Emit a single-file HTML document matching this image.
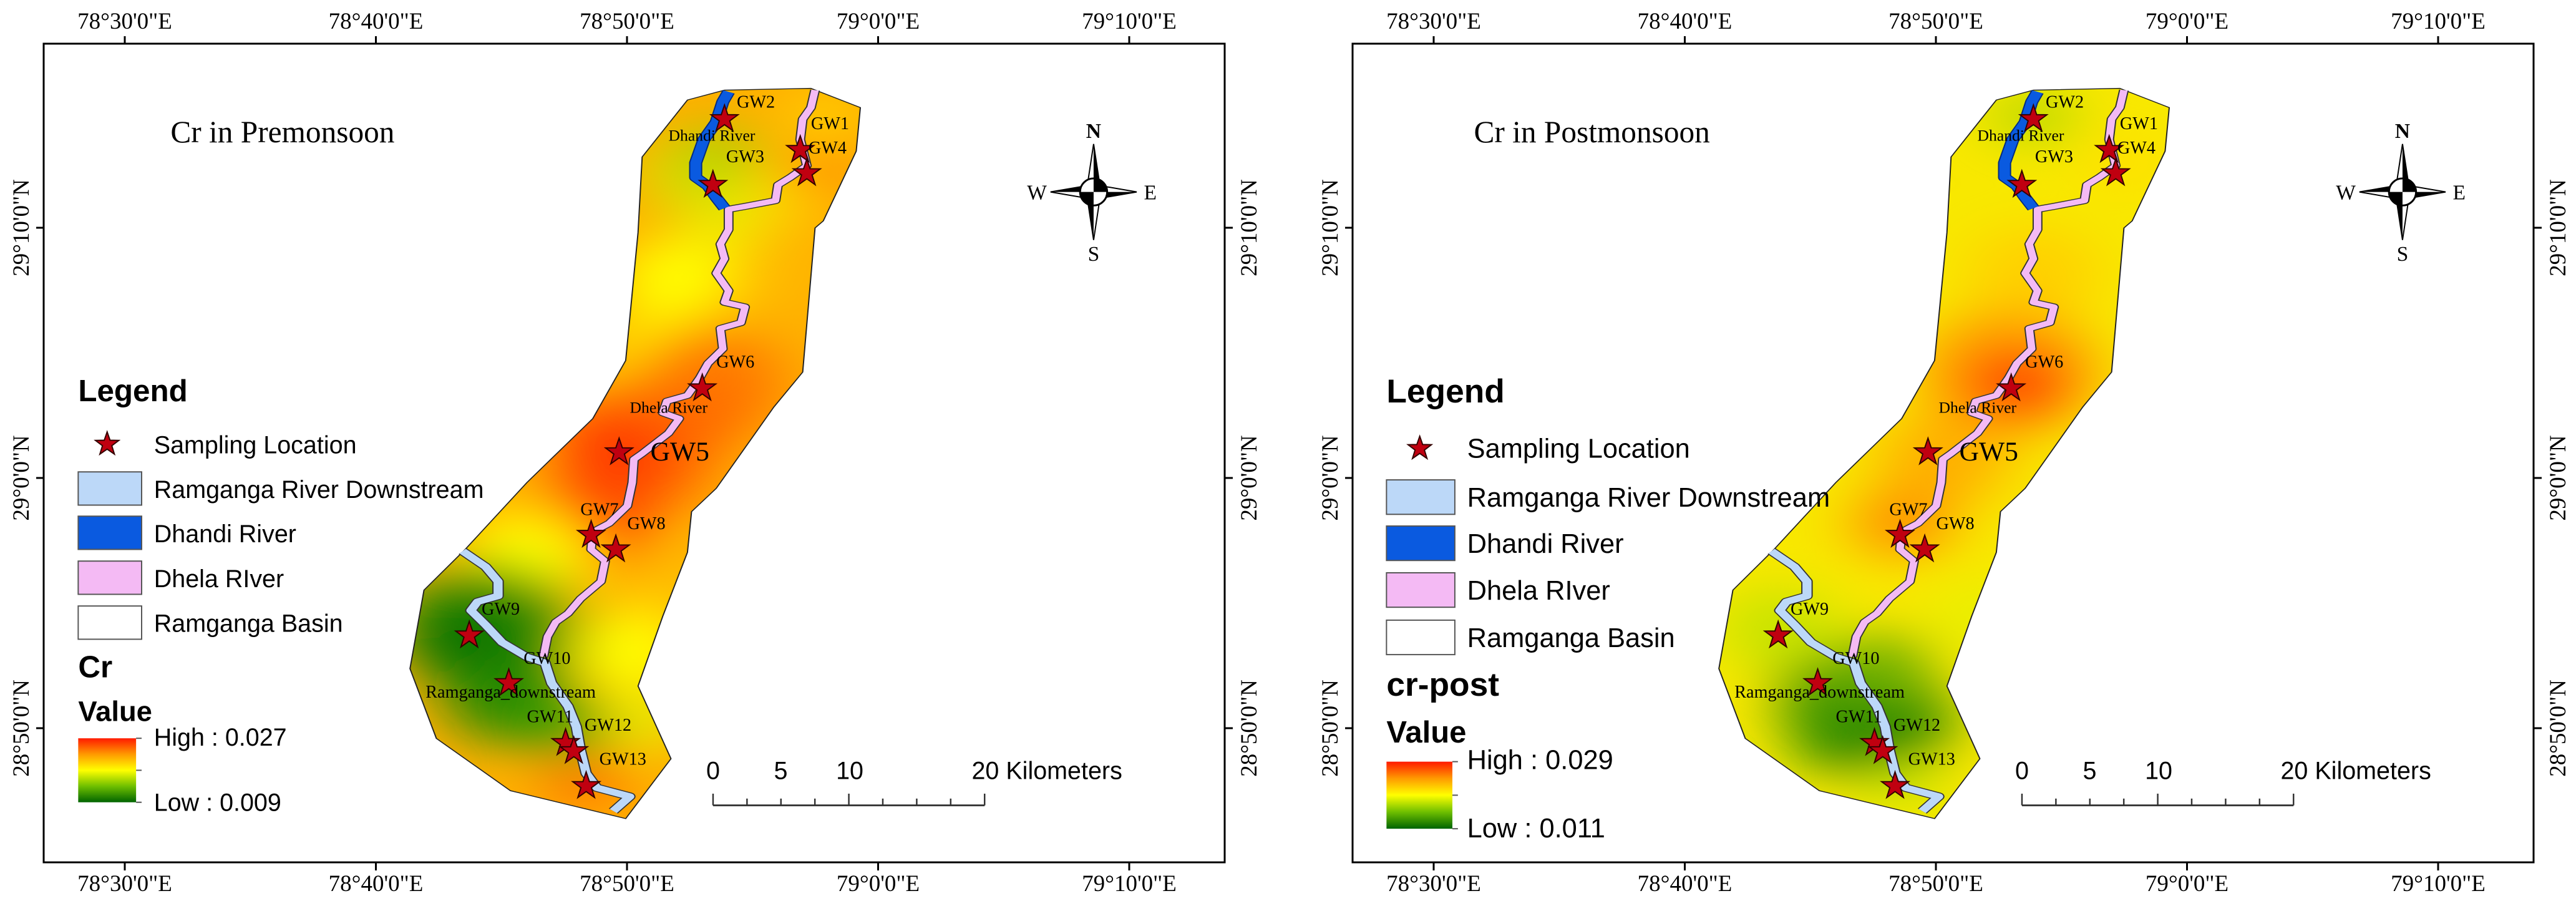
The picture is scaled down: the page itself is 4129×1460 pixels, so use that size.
<!DOCTYPE html>
<html><head><meta charset="utf-8"><style>html,body{margin:0;padding:0;background:#fff}svg{display:block}</style></head>
<body>
<svg id="root" xmlns="http://www.w3.org/2000/svg" width="4129" height="1460" viewBox="0 0 4129 1460">
<defs>
<filter id="blur" x="-50%" y="-50%" width="200%" height="200%"><feGaussianBlur stdDeviation="38"/></filter>
<clipPath id="basinClip"><path d="M835,172 L880,155 L985,152 L1045,185 L1040,260 L1000,380 L990,392 L975,640 L940,700 L870,840 L840,880 L835,950 L805,1060 L775,1180 L815,1305 L760,1408 L620,1360 L530,1270 L498,1150 L515,1015 L565,945 L640,830 L720,720 L760,620 L775,400 L780,270 Z"/></clipPath>
<linearGradient id="legGrad" x1="0" y1="0" x2="0" y2="1">
<stop offset="0" stop-color="#ff1a00"/><stop offset="0.25" stop-color="#ff9a00"/><stop offset="0.5" stop-color="#ffff00"/><stop offset="0.75" stop-color="#6fbf00"/><stop offset="1" stop-color="#006400"/>
</linearGradient>
</defs>
<rect width="4129" height="1460" fill="#fff"/>
</svg>
<script>
const NS='http://www.w3.org/2000/svg';
const root=document.getElementById('root');
const stationNames=['GW2','GW1','GW4','GW3','GW6','GW5','GW7','GW8','GW9','GW10','GW11','GW12','GW13'];
const stationX=[880,972,980,866,853,752,718,748,570,618,687,697,712];
const stationY=[205,258,298,318,668,778,920,945,1093,1175,1278,1292,1352];
const labelText=['GW2','Dhandi River','GW3','GW1','GW4','GW6','Dhela River','GW5','GW7','GW8','GW9','GW10','Ramganga_downstream','GW11','GW12','GW13'];
const labelX=[895,812,882,985,982,870,765,790,705,762,585,636,517,640,710,728];
const labelY=[185,242,279,222,264,632,710,792,886,910,1057,1142,1200,1242,1257,1315];
const labelSize=[22,20,22,22,22,22,20,34,22,22,22,22,22,22,22,22];
const xTicks=["78°30'0\"E","78°40'0\"E","78°50'0\"E","79°0'0\"E","79°10'0\"E"];
const yTicks=["29°10'0\"N","29°0'0\"N","28°50'0\"N"];
const SX=1.337, SY=0.945;
function el(tag,attrs,parent){const e=document.createElementNS(NS,tag);for(const k in attrs)e.setAttribute(k,attrs[k]);(parent||root).appendChild(e);return e;}
function starPts(cx,cy,R,r){let p=[];for(let i=0;i<10;i++){const a=-Math.PI/2+i*Math.PI/5;const rr=i%2?r:R;p.push((cx+rr*Math.cos(a)).toFixed(1)+','+(cy+rr*Math.sin(a)).toFixed(1));}return p.join(' ');}
const basinD="M835,172 L880,155 L985,152 L1045,185 L1040,260 L1000,380 L990,392 L975,640 L940,700 L870,840 L840,880 L835,950 L805,1060 L775,1180 L815,1305 L760,1408 L620,1360 L530,1270 L498,1150 L515,1015 L565,945 L640,830 L720,720 L760,620 L775,400 L780,270 Z";
const dhelaD="M990,155 L985,185 L975,205 L972,240 L980,285 L960,305 L945,318 L942,345 L905,355 L885,360 L885,395 L875,420 L880,445 L870,470 L885,500 L880,520 L905,528 L900,555 L875,565 L878,600 L860,625 L850,650 L835,680 L810,690 L805,710 L825,720 L812,745 L780,780 L770,790 L768,830 L762,870 L740,900 L720,915 L718,945 L735,965 L730,1000 L705,1030 L690,1055 L675,1070 L665,1095 L660,1130";
const dhandiD="M885,158 L878,175 L870,210 L855,240 L845,280 L845,305 L860,320 L870,340 L880,358";
const ramD="M562,948 L590,975 L605,1000 L605,1025 L580,1035 L572,1050 L590,1075 L610,1105 L640,1130 L662,1140 L670,1175 L690,1215 L700,1250 L705,1290 L712,1330 L725,1355 L765,1370 L745,1395";
const preBase='#ffb000';
const preBlobs=[[930,470,70,'#ffb800'],[820,480,70,'#ffff00'],[790,600,55,'#fff000'],[700,790,55,'#ffe800'],[880,380,50,'#f0ee00'],[850,300,70,'#d8e000'],[870,260,45,'#a8d000'],[960,330,45,'#ffe000'],[1000,200,40,'#ffd800'],[995,300,40,'#ff8a00'],[860,660,95,'#ff7a00'],[760,780,105,'#ff5a00'],[750,780,50,'#ff2a00'],[720,910,75,'#ff4a00'],[860,720,55,'#ff6a00'],[640,960,80,'#ffff00'],[810,1000,60,'#ffc000'],[770,1120,70,'#ffff00'],[790,1240,50,'#e8f000'],[590,1080,110,'#2a8c00'],[570,1110,70,'#007000'],[620,1200,80,'#208800'],[680,1250,55,'#40a000'],[710,1350,45,'#ff7000']];
const postBase='#f8e800';
const postBlobs=[[880,470,80,'#ffd000'],[850,640,110,'#ffa000'],[860,660,60,'#ff3a00'],[770,790,80,'#ffb000'],[720,900,60,'#ff9000'],[880,200,50,'#b8d800'],[990,280,50,'#ffe000'],[680,1240,100,'#1e8400'],[640,1190,70,'#3a9400'],[700,1150,60,'#70b000'],[570,1080,70,'#c8e400'],[720,1350,45,'#c8e400'],[820,1060,60,'#e8f000']];
const tickX0=200, tickDX=402.5;
const tickY=[365,766,1167];
function panel(ox,title,legTitle,hi,lo,base,blobs,L){
  const O=el('g',{transform:`translate(${ox},0)`,});
  el('rect',{x:70,y:70,width:1893,height:1312,fill:'#fff',stroke:'#000','stroke-width':3,},O);
  xTicks.forEach((t,i)=>{const x=tickX0+i*tickDX;
    el('line',{x1:x,y1:58,x2:x,y2:70,stroke:'#000','stroke-width':3},O);
    el('line',{x1:x,y1:1382,x2:x,y2:1395,stroke:'#000','stroke-width':3},O);
    const a=el('text',{x:x,y:46,'font-family':'Liberation Serif, serif','font-size':37,'text-anchor':'middle'},O);a.textContent=t;
    const b=el('text',{x:x,y:1428,'font-family':'Liberation Serif, serif','font-size':37,'text-anchor':'middle'},O);b.textContent=t;});
  yTicks.forEach((t,i)=>{const y=tickY[i];
    el('line',{x1:58,y1:y,x2:70,y2:y,stroke:'#000','stroke-width':3},O);
    el('line',{x1:1963,y1:y,x2:1976,y2:y,stroke:'#000','stroke-width':3},O);
    [34,2002].forEach(xx=>{const a=el('text',{x:0,y:0,transform:`translate(${xx+12},${y}) rotate(-90)`,'font-family':'Liberation Serif, serif','font-size':37,'text-anchor':'middle'},O);a.textContent=t;});});
  const P=el('g',{transform:'scale(0.987 0.986)'},O);
  
  const G=el('g',{transform:`scale(${SX} ${SY})`},P);
  
  const C=el('g',{'clip-path':'url(#basinClip)'},G);
  el('path',{d:basinD,fill:base},C);
  const B=el('g',{filter:'url(#blur)'},C);
  blobs.forEach(b=>el('ellipse',{cx:b[0],cy:b[1],rx:b[2],ry:b[2],fill:b[3]},B));
  el('path',{d:basinD,fill:'none',stroke:'#222','stroke-width':1.5},G);
  el('path',{d:ramD,fill:'none',stroke:'#333','stroke-width':14,'stroke-linejoin':'round'},G);
  const r1=el('path',{d:ramD,fill:'none',stroke:'#bcd8f8','stroke-width':11,'stroke-linejoin':'round'},G);
  el('path',{d:dhelaD,fill:'none',stroke:'#333','stroke-width':12,'stroke-linejoin':'round'},G);
  const r2=el('path',{d:dhelaD,fill:'none',stroke:'#f4baf4','stroke-width':9,'stroke-linejoin':'round'},G);
  el('path',{d:dhandiD,fill:'none',stroke:'#002a80','stroke-width':16,'stroke-linejoin':'round'},G);
  const r3=el('path',{d:dhandiD,fill:'none',stroke:'#0a5ae0','stroke-width':13,'stroke-linejoin':'round'},G);
  stationX.forEach((x,i)=>{const s=el('polygon',{points:starPts(x*SX,stationY[i]*SY,23,9),fill:'#c00010',stroke:'#300','stroke-width':2},P);
    });
  labelText.forEach((t,i)=>{const a=el('text',{x:labelX[i]*SX,y:labelY[i]*SY,'font-family':'Liberation Serif, serif','font-size':labelSize[i]*1.3},P);a.textContent=t;
    });
  const tt=el('text',{x:L.titleX,y:231,'font-family':'Liberation Serif, serif','font-size':50},P);tt.textContent=title;
  const fs=L.fs;
  const lg=el('text',{x:L.bx,y:L.legY,'font-family':'Liberation Sans, sans-serif','font-size':L.hfs,'font-weight':'bold'},P);lg.textContent='Legend';
  el('polygon',{points:starPts(L.starX,L.starY,20,8),fill:'#c00010',stroke:'#300','stroke-width':2},P);
  const st=el('text',{x:L.tx,y:L.sampY,'font-family':'Liberation Sans, sans-serif','font-size':fs},P);st.textContent='Sampling Location';
  const items=[['Ramganga River Downstream','#bcd8f8'],['Dhandi River','#0a5ae0'],['Dhela RIver','#f4baf4'],['Ramganga Basin','#ffffff']];
  items.forEach((it,i)=>{el('rect',{x:L.bx,y:L.boxY[i],width:L.bw,height:L.bh,fill:it[1],stroke:'#555','stroke-width':2},P);
    const a=el('text',{x:L.tx,y:L.boxY[i]+L.bh*0.78,'font-family':'Liberation Sans, sans-serif','font-size':fs},P);a.textContent=it[0];});
  const ct=el('text',{x:L.bx,y:L.crY,'font-family':'Liberation Sans, sans-serif','font-size':L.hfs,'font-weight':'bold'},P);ct.textContent=legTitle;
  const vt=el('text',{x:L.bx,y:L.valY,'font-family':'Liberation Sans, sans-serif','font-size':L.hfs*0.92,'font-weight':'bold'},P);vt.textContent='Value';
  const gr=el('rect',{x:L.bx,y:L.gY,width:L.gw,height:L.gh,fill:'url(#legGrad)'},P);
  [0,0.5,1].forEach(f=>el('line',{x1:L.bx+L.gw,y1:L.gY+f*L.gh,x2:L.bx+L.gw+9,y2:L.gY+f*L.gh,stroke:'#555','stroke-width':2},P));
  const h=el('text',{x:L.tx,y:L.gY+12,'font-family':'Liberation Sans, sans-serif','font-size':fs},P);h.textContent='High : '+hi;
  const l=el('text',{x:L.tx,y:L.gY+L.gh+14,'font-family':'Liberation Sans, sans-serif','font-size':fs},P);l.textContent='Low : '+lo;
  const sb=el('g',{},P);
  el('line',{x1:1158,y1:1309,x2:1599,y2:1309,stroke:'#333','stroke-width':3},sb);
  for(let i=0;i<=8;i++){const x=1158+i*(441/8);el('line',{x1:x,y1:1309,x2:x,y2:(i%4==0?1290:1298),stroke:'#333','stroke-width':2.5},sb);}
  [['0',1158],['5',1268],['10',1380],['20 Kilometers',1578]].forEach(a=>{const t=el('text',{x:a[1],y:1266,'font-family':'Liberation Sans, sans-serif','font-size':40,'text-anchor':a[0].length>3?'start':'middle'},sb);t.textContent=a[0];});
  const na=el('g',{transform:'translate(1776,312)'},P);
  el('polygon',{points:'0,-78 10,-12 0,0 -10,-12',fill:'#fff',stroke:'#000','stroke-width':2},na);
  el('polygon',{points:'0,-78 10,-12 0,0',fill:'#000'},na);
  el('polygon',{points:'0,78 10,12 0,0 -10,12',fill:'#fff',stroke:'#000','stroke-width':2},na);
  el('polygon',{points:'0,78 -10,12 0,0',fill:'#000'},na);
  el('polygon',{points:'-70,0 -12,-10 0,0 -12,10',fill:'#fff',stroke:'#000','stroke-width':2},na);
  el('polygon',{points:'-70,0 -12,-10 0,0',fill:'#000'},na);
  el('polygon',{points:'70,0 12,-10 0,0 12,10',fill:'#fff',stroke:'#000','stroke-width':2},na);
  el('polygon',{points:'70,0 12,10 0,0',fill:'#000'},na);
  el('circle',{cx:0,cy:0,r:22,fill:'#fff',stroke:'#000','stroke-width':3},na);
  el('path',{d:'M0,0 L0,-22 A22,22 0 0 1 22,0 Z M0,0 L0,22 A22,22 0 0 1 -22,0 Z',fill:'#000'},na);
  [['N',0,-88],['S',0,112],['W',-92,12],['E',92,12]].forEach(a=>{const t=el('text',{x:a[1],y:a[2],'font-family':'Liberation Serif, serif','font-size':34,'font-weight':a[0]=='N'?'bold':'normal','text-anchor':'middle'},na);t.textContent=a[0];});
}
panel(0,'Cr in Premonsoon','Cr','0.027','0.009',preBase,preBlobs,{name:'premonsoon-map',titleX:277,bx:127,tx:250,bw:103,bh:54,fs:40,hfs:50,legY:652,starX:174,starY:722,sampY:737,boxY:[767,839,912,985],crY:1101,valY:1172,gY:1200,gw:94,gh:104});
panel(2098,'Cr in Postmonsoon','cr-post','0.029','0.011',postBase,postBlobs,{name:'postmonsoon-map',titleX:268,bx:126,tx:257,bw:111,bh:56,fs:44,hfs:54,legY:654,starX:180,starY:729,sampY:744,boxY:[780,855,931,1008],crY:1131,valY:1207,gY:1238,gw:107,gh:109});
</script>
</body></html>
